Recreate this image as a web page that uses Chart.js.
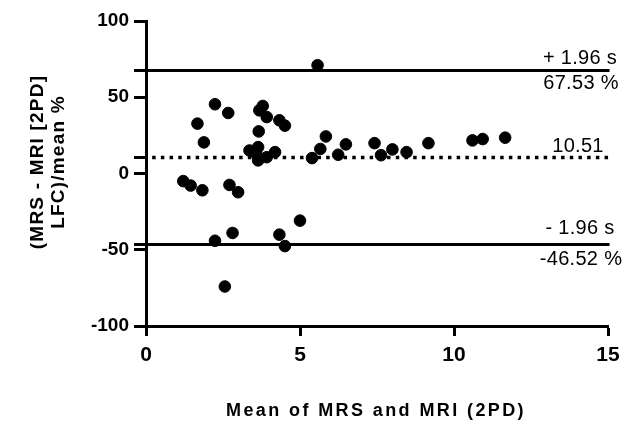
<!DOCTYPE html>
<html lang="en">
<head>
  <meta charset="UTF-8" />
  <script src="https://cdn.jsdelivr.net/npm/chart.js"></script>
  <title>Bland-Altman MRS vs MRI</title>
  <style>
    body { margin: 0; background: #fff; }
    #caja { width: 630px; height: 428px; }
  </style>
</head>
<body>
  <div id="caja"><canvas id="grafico"></canvas></div>
  <script>
    // medias (x) y diferencias % (y)
    const medias = [
      5.57, 2.24, 2.67, 1.67, 1.88, 3.79, 3.68, 3.92, 4.33, 4.51, 3.66,
      3.36, 3.64, 3.58, 3.64, 3.92, 4.19,
      5.39, 5.66, 5.84, 6.24, 6.49, 7.42, 7.63, 8.00, 8.46, 9.17, 10.60, 10.93, 11.66,
      1.21, 1.45, 1.83, 2.71, 2.99, 5.00, 2.81, 2.24, 4.33, 4.51, 2.56
    ];
    const diferencias = [
      71.0, 45.4, 39.7, 32.7, 20.4, 44.3, 41.4, 37.0, 34.9, 31.4, 27.6,
      15.1, 17.3, 13.0, 8.6, 10.7, 14.0,
      10.1, 16.1, 24.3, 12.3, 19.1, 19.9, 12.0, 15.8, 14.0, 19.9, 21.7, 22.6, 23.5,
      -5.0, -7.9, -11.0, -7.5, -12.3, -30.9, -39.0, -44.1, -40.1, -47.6, -74.1
    ];
    const limiteSup = 67.53;
    const sesgo = 10.51;
    const limiteInf = -46.52;
    const ticksY = [-100, -50, 0, 50, 100];
    const ticksX = [0, 5, 10, 15];
    const etiquetas = ['+ 1.96 s', '67.53 %', '10.51', '- 1.96 s', '-46.52 %'];

    const puntos = medias.map((m, i) => ({ x: m, y: diferencias[i] }));
    const linea = (v, x0) => [{ x: x0, y: v }, { x: 15.05, y: v }];

    // textos de las lineas y titulos de los ejes
    const textos = {
      id: 'textos',
      afterDraw(chart) {
        const ctx = chart.ctx;
        const y = chart.scales.y;
        ctx.save();
        ctx.fillStyle = '#000';
        ctx.textAlign = 'center';
        ctx.textBaseline = 'middle';
        ctx.font = '20px "Liberation Sans", Arial, sans-serif';
        ctx.letterSpacing = '0.3px';
        ctx.fillText(etiquetas[0], 580, y.getPixelForValue(limiteSup) - 12);
        ctx.fillText(etiquetas[1], 581, y.getPixelForValue(limiteSup) + 13);
        ctx.fillText(etiquetas[2], 578, y.getPixelForValue(sesgo) - 11);
        ctx.fillText(etiquetas[3], 580, y.getPixelForValue(limiteInf) - 16);
        ctx.fillText(etiquetas[4], 581, y.getPixelForValue(limiteInf) + 15);

        ctx.font = 'bold 18px "Liberation Sans", Arial, sans-serif';
        ctx.letterSpacing = '2.4px';
        ctx.fillText('Mean of MRS and MRI (2PD)', 376, 411);

        ctx.font = 'bold 19px "Liberation Sans", Arial, sans-serif';
        ctx.letterSpacing = '1.2px';
        ctx.translate(38, 162);
        ctx.rotate(-Math.PI / 2);
        ctx.fillText('(MRS - MRI [2PD]', 0, 0);
        ctx.fillText('LFC)/mean %', 0, 21);
        ctx.restore();
      }
    };

    new Chart(document.getElementById('grafico'), {
      type: 'scatter',
      data: {
        datasets: [
          {
            data: puntos,
            backgroundColor: '#000',
            borderColor: '#000',
            pointRadius: 5.8,
            pointHoverRadius: 5.8
          },
          {
            type: 'line',
            data: linea(limiteSup, -0.25),
            borderColor: '#000',
            borderWidth: 3,
            pointRadius: 0,
            clip: false
          },
          {
            type: 'line',
            data: linea(sesgo, 0.2),
            borderColor: '#000',
            borderWidth: 3.5,
            borderDash: [3.5, 5.2],
            pointRadius: 0,
            clip: false
          },
          {
            type: 'line',
            data: linea(limiteInf, -0.25),
            borderColor: '#000',
            borderWidth: 3,
            pointRadius: 0,
            clip: false
          }
        ]
      },
      options: {
        responsive: true,
        maintainAspectRatio: false,
        animation: false,
        events: [],
        layout: { padding: { left: 0, right: 22, top: 21, bottom: 0 } },
        plugins: { legend: { display: false }, tooltip: { enabled: false } },
        scales: {
          x: {
            type: 'linear',
            min: 0,
            max: 15,
            afterBuildTicks: s => { s.ticks = ticksX.map(v => ({ value: v })); },
            afterFit: s => { s.height = 102; },
            grid: { drawOnChartArea: false, tickLength: 10, tickWidth: 3, tickColor: '#000' },
            border: { color: '#000', width: 3 },
            ticks: {
              color: '#000',
              padding: 7,
              maxRotation: 0,
              font: { family: '"Liberation Sans", Arial, sans-serif', size: 21, weight: 'bold' }
            }
          },
          y: {
            min: -100,
            max: 100,
            afterBuildTicks: s => {
              s.ticks = ticksY.concat([limiteSup, sesgo, limiteInf]).map(v => ({ value: v }));
            },
            afterFit: s => { s.width = 146; },
            grid: { drawOnChartArea: false, tickLength: 12, tickWidth: 3, tickColor: '#000' },
            border: { color: '#000', width: 3 },
            ticks: {
              color: '#000',
              padding: 5,
              autoSkip: false,
              callback: v => (ticksY.includes(v) ? v : ''),
              font: { family: '"Liberation Sans", Arial, sans-serif', size: 19, weight: 'bold' }
            }
          }
        }
      },
      plugins: [textos]
    });
  </script>
</body>
</html>
